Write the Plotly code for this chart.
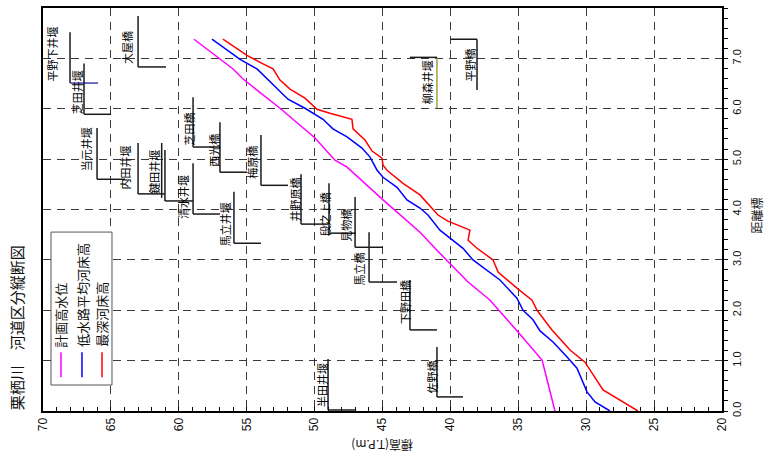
import plotly.graph_objects as go

# ---------------- data ----------------
# 計画高水位 : (distance km, elevation m)
plan_d = [0.0, 1.01, 1.57, 1.98, 2.20, 2.58, 2.92, 3.19, 3.55, 4.19, 4.84, 4.98, 5.42, 6.01, 6.59, 6.79, 7.38]
plan_e = [32.30, 33.25, 35.02, 36.35, 37.08, 38.78, 40.03, 40.99, 42.24, 44.96, 47.61, 48.50, 49.97, 52.55, 55.27, 56.00, 58.88]

# 低水路平均河床高
avg_d = [0.0, 0.18, 0.38, 0.85, 1.07, 1.37, 1.59, 1.81, 2.00, 2.24, 2.60, 3.00, 3.23, 3.43, 3.59, 3.89, 4.03,
         4.19, 4.44, 4.64, 4.78, 5.04, 5.22, 5.44, 5.60, 5.79, 5.89, 6.01, 6.19, 6.53, 6.79, 6.98, 7.38]
avg_e = [28.25, 29.35, 29.94, 30.68, 31.41, 32.44, 33.40, 33.92, 34.65, 35.10, 36.35, 38.34, 39.07, 40.03, 40.77, 41.65, 42.24,
         43.20, 43.93, 44.96, 45.40, 45.92, 46.51, 47.61, 48.65, 49.38, 49.97, 50.71, 51.96, 53.28, 54.24, 55.49, 57.56]

# 最深河床高
deep_d = [0.0, 0.42, 0.97, 1.21, 1.61, 2.00, 2.20, 2.44, 2.76, 3.00, 3.23, 3.39, 3.59, 3.77, 3.89, 4.29, 4.52,
          4.78, 4.88, 5.02, 5.16, 5.38, 5.60, 5.79, 5.91, 5.99, 6.21, 6.39, 6.57, 6.79, 6.90, 7.06, 7.38]
deep_e = [26.19, 28.76, 30.09, 31.19, 32.52, 33.62, 33.99, 35.10, 36.49, 36.86, 38.04, 38.70, 38.56, 40.18, 40.91, 42.24, 43.49,
          44.67, 44.96, 45.04, 45.77, 46.29, 47.17, 47.25, 48.87, 49.82, 50.71, 51.81, 52.55, 53.06, 53.87, 54.98, 56.75]

# structures (weirs / bridges)
st_name  = ["平野下井堰", "芝田井堰", "大屋橋", "当元井堰", "内田井堰", "鍵田井堰", "", "芝田橋", "西光橋", "梅原橋",
            "清水井堰", "馬立井堰", "井野原橋", "段之上橋", "見物橋", "馬立橋", "下野田橋", "佐野橋", "半田井堰",
            "柳森井堰", "平野橋"]
st_ev    = [68.01, 66.98, 63.00, 66.02, 63.00, 61.02, 61.26, 58.95, 56.97, 53.95,
            58.95, 55.94, 51.00, 48.94, 47.02, 45.99, 42.98, 40.99, 49.01, 40.99, 38.04]   # elevation of leader line
st_dh    = [6.51, 5.89, 6.83, 4.60, 4.31, 4.17, 4.23, 5.24, 4.74, 4.48,
            3.91, 3.33, 3.71, 3.53, 3.25, 2.56, 1.61, 0.28, 0.02, 7.02, 7.38]              # distance of tick line
st_eh    = [65.95, 64.99, 60.94, 63.96, 61.02, 58.95, 61.26, 56.97, 54.98, 51.96,
            56.97, 53.95, 49.01, 46.95, 44.96, 43.93, 40.99, 39.07, 47.02, 42.98, 39.96]   # other end of tick line
st_dv    = [7.52, 6.90, 7.84, 5.62, 5.32, 5.18, 5.32, 6.23, 5.73, 5.48,
            4.92, 4.35, 4.70, 4.52, 4.25, 3.55, 2.60, 1.27, 1.03, 6.01, 6.37]              # other end of leader line
st_lab_e = [69.34, 67.50, 63.78, 66.83, 63.96, 61.83, 0, 59.32, 57.41, 54.61,
            59.69, 56.60, 51.41, 49.23, 47.69, 46.73, 43.34, 41.35, 49.46, 41.72, 38.56]
st_lab_d = [6.53, 5.87, 6.87, 4.74, 4.38, 4.29, 0, 5.24, 4.84, 4.58,
            3.79, 3.25, 3.75, 3.45, 3.35, 2.46, 1.71, 0.32, 0.06, 6.07, 6.53]

legend_names = ["計画高水位", "低水路平均河床高", "最深河床高"]
x_ticks = [70, 65, 60, 55, 50, 45, 40, 35, 30, 25, 20]
y_ticks = [0, 1, 2, 3, 4, 5, 6, 7, 8]

# ---------------- styles ----------------
C_PLAN, C_AVG, C_DEEP = "#ff00ff", "#0000ff", "#ff0000"
C_STRUCT = "#1a1a1a"
hline_color = {"平野下井堰": "#4040a8"}
vline_color = {"柳森井堰": "#a0a040"}
JP = "Noto Sans CJK JP"
LAT = "Liberation Sans, Arial, sans-serif"

fig = go.Figure()

# structure lines
for i, nm in enumerate(st_name):
    fig.add_trace(go.Scatter(x=[st_ev[i], st_ev[i]], y=[st_dh[i], st_dv[i]], mode="lines",
                             line=dict(color=vline_color.get(nm, C_STRUCT), width=1.5),
                             showlegend=False, hoverinfo="skip"))
    if st_eh[i] != st_ev[i]:
        fig.add_trace(go.Scatter(x=[st_ev[i], st_eh[i]], y=[st_dh[i], st_dh[i]], mode="lines",
                                 line=dict(color=hline_color.get(nm, C_STRUCT), width=1.5),
                                 showlegend=False, hoverinfo="skip"))
    if nm:
        fig.add_annotation(x=st_lab_e[i], y=st_lab_d[i], xref="x", yref="y", text=nm,
                           textangle=-90, showarrow=False, xanchor="center", yanchor="bottom",
                           borderpad=0, font=dict(family=JP, size=11, color="#000"))

for d, e, c, n in [(plan_d, plan_e, C_PLAN, legend_names[0]),
                   (avg_d, avg_e, C_AVG, legend_names[1]),
                   (deep_d, deep_e, C_DEEP, legend_names[2])]:
    fig.add_trace(go.Scatter(x=e, y=d, mode="lines", name=n, line=dict(color=c, width=1.5),
                             showlegend=False))

# ---------------- legend (drawn, rotated) ----------------
fig.add_shape(type="rect", xref="paper", yref="paper", x0=0.0118, x1=0.1016, y0=0.0645, y1=0.444,
              line=dict(color="#555", width=1), fillcolor="white", layer="above")
leg_x = [0.0265, 0.0574, 0.0869]
for lx, c, n in zip(leg_x, [C_PLAN, C_AVG, C_DEEP], legend_names):
    fig.add_shape(type="line", xref="paper", yref="paper", x0=lx, x1=lx, y0=0.084, y1=0.146,
                  line=dict(color=c, width=1.5), layer="above")
    fig.add_annotation(x=lx, y=0.156, xref="paper", yref="paper", text=n, textangle=-90,
                       showarrow=False, xanchor="center", yanchor="bottom", borderpad=0,
                       font=dict(family=JP, size=13, color="#111"))

# titles
fig.add_annotation(x=-0.038, y=0.206, xref="paper", yref="paper", text="栗栖川　河道区分縦断図",
                   textangle=-90, showarrow=False, xanchor="center", yanchor="middle",
                   font=dict(family=JP, size=15, color="#111"))
fig.add_annotation(x=0.5, y=-0.084, xref="paper", yref="paper", text="標高(T.P.m)",
                   textangle=180, showarrow=False, xanchor="center", yanchor="middle",
                   font=dict(family=JP, size=12, color="#111"))
fig.add_annotation(x=1.0515, y=0.485, xref="paper", yref="paper", text="距離標",
                   textangle=-90, showarrow=False, xanchor="center", yanchor="middle",
                   font=dict(family=JP, size=12, color="#111"))

grid = dict(showgrid=True, gridcolor="#3a3a3a", gridwidth=1, griddash="8px,6px")

fig.update_layout(
    width=766, height=461, autosize=False,
    margin=dict(l=43, r=44, t=8, b=50),
    paper_bgcolor="white", plot_bgcolor="white",
    showlegend=False,
    xaxis=dict(range=[70, 20], tickvals=x_ticks, ticktext=[str(v) for v in x_ticks],
               tickangle=-90, ticks="inside", ticklen=4, tickcolor="black", automargin=False,
               minor=dict(dtick=1, ticks="inside", ticklen=4, tickcolor="black", showgrid=False),
               showline=True, linecolor="black", linewidth=2, mirror=True, zeroline=False,
               tickfont=dict(family=LAT, size=12, color="#111"), **grid),
    yaxis=dict(range=[0, 8], side="right", tickvals=y_ticks, ticktext=[f"{v:.1f}" for v in y_ticks],
               tickangle=-90, ticks="outside", ticklen=4, tickcolor="black", automargin=False,
               minor=dict(dtick=0.2, ticks="outside", ticklen=4, tickcolor="black", showgrid=False),
               showline=True, linecolor="black", linewidth=2, mirror=True, zeroline=False,
               tickfont=dict(family=LAT, size=11, color="#111"), **grid),
)

fig.write_html("out.html")
